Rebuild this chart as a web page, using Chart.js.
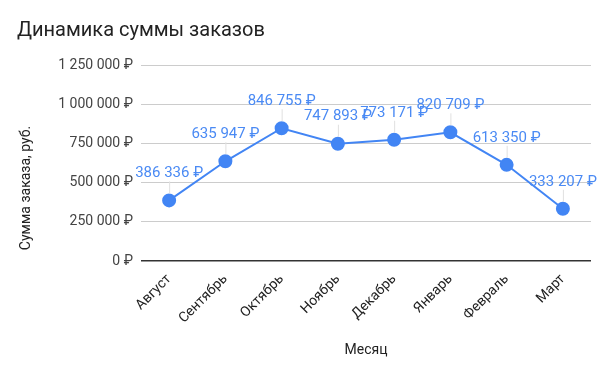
<!DOCTYPE html>
<html><head><meta charset="utf-8">
<script src="https://cdn.jsdelivr.net/npm/chart.js@4/dist/chart.umd.min.js"></script>
<style>html,body{margin:0;padding:0;background:#fff}#wrap{width:610px;height:377px}</style>
</head><body><div id="wrap"><canvas id="c" width="610" height="377"></canvas></div>
<script>
const months = ["Август","Сентябрь","Октябрь","Ноябрь","Декабрь","Январь","Февраль","Март"];
const orderSums = [386336, 635947, 846755, 747893, 773171, 820709, 613350, 333207];
const yTicks = [0, 250000, 500000, 750000, 1000000, 1250000];
const yTitle = 'Сумма заказа, руб.';

function fmt(v){ return String(Math.round(v)).replace(/\B(?=(\d{3})+(?!\d))/g, " ") + " ₽"; }

const labelPlugin = {
  id: 'pointLabels',
  afterDatasetsDraw(chart){
    const ctx = chart.ctx;
    const meta = chart.getDatasetMeta(0);
    ctx.save();
    ctx.font = '15px Roboto';
    ctx.textAlign = 'center';
    ctx.textBaseline = 'middle';
    meta.data.forEach((pt, i) => {
      const ly = pt.y - 27;
      ctx.strokeStyle = '#e0e0e0';
      ctx.lineWidth = 1;
      ctx.beginPath(); ctx.moveTo(pt.x + 0.5, pt.y - 7); ctx.lineTo(pt.x + 0.5, ly + 8); ctx.stroke();
      ctx.fillStyle = '#4a8af4';
      ctx.fillText(fmt(orderSums[i]), pt.x, ly);
    });
    ctx.restore();
  },
  afterDraw(chart){
    const ctx = chart.ctx;
    ctx.save();
    ctx.translate(26, 188);
    ctx.rotate(-Math.PI / 2);
    ctx.font = '14px Roboto';
    ctx.fillStyle = '#222';
    ctx.textAlign = 'center';
    ctx.textBaseline = 'middle';
    ctx.fillText(yTitle, 0, 0);
    ctx.restore();
  }
};

new Chart(document.getElementById('c'), {
  type: 'line',
  data: { labels: months, datasets: [{
    data: orderSums, borderColor: '#4285f4', backgroundColor: '#4285f4',
    borderWidth: 2, pointRadius: 6, pointHoverRadius: 6, tension: 0
  }]},
  plugins: [labelPlugin],
  options: {
    responsive: false, animation: false,
    layout: { padding: { left: 17, right: 19, top: 0, bottom: 0 } },
    plugins: {
      legend: { display: false }, tooltip: { enabled: false },
      title: { display: true, text: 'Динамика суммы заказов', align: 'start',
        font: { family: 'Roboto', size: 20, weight: 'normal' }, color: '#222',
        padding: { top: 19, bottom: 22 } }
    },
    scales: {
      x: { offset: true,
        afterFit(axis){ axis.height = 116; },
        grid: { display: false },
        border: { display: false },
        ticks: { color: '#222', font: { family: 'Roboto', size: 14 }, maxRotation: 45, minRotation: 45, padding: 2 },
        title: { display: true, text: 'Месяц', color: '#222', font: { family: 'Roboto', size: 14 }, padding: { top: 10, bottom: 18 } }
      },
      y: { min: 0, max: 1250000,
        afterFit(axis){ axis.width = 124; },
        afterBuildTicks(axis){ axis.ticks = yTicks.map(v => ({ value: v })); },
        grid: { color: (c) => c.tick && c.tick.value === 0 ? '#333' : '#cccccc', lineWidth: (c) => c.tick && c.tick.value === 0 ? 1.5 : 1, drawTicks: false },
        border: { display: false },
        ticks: { color: '#444', font: { family: 'Roboto', size: 14 }, padding: 8, callback: (v) => fmt(v) }
      }
    }
  }
});
</script></body></html>
